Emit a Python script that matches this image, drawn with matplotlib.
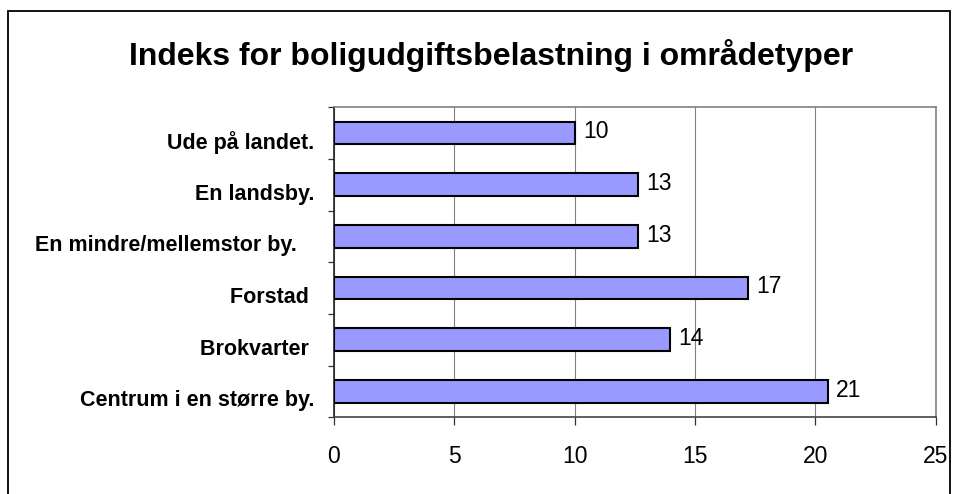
import matplotlib
matplotlib.use("Agg")
import matplotlib.pyplot as plt
import matplotlib.transforms as mtransforms
from matplotlib.patches import Rectangle

plt.rcParams['font.family'] = ['Liberation Sans', 'DejaVu Sans']

title = "Indeks for boligudgiftsbelastning i områdetyper"
categories = ["Ude på landet.", "En landsby.", "En mindre/mellemstor by.   ",
              "Forstad ", "Brokvarter ", "Centrum i en større by."]
values = [10.0, 12.64, 12.64, 17.21, 13.96, 20.51]
xticks = [0, 5, 10, 15, 20, 25]

fig = plt.figure(figsize=(9.59, 4.94), dpi=100)
fig.patch.set_facecolor("white")

# outer chart border
border = Rectangle((7.5 / 959, -0.1), (950 - 7.5) / 959, 1.1 - 10.7 / 494,
                   transform=fig.transFigure, fill=False, edgecolor="black",
                   linewidth=1.3, zorder=0)
fig.patches.append(border)

ax = fig.add_axes([334 / 959, 76.7 / 494, (935.7 - 334) / 959, (417.3 - 107.3) / 494])

ypos = list(range(len(categories)))
ax.barh(ypos, values, height=0.44, color="#9999FF", edgecolor="black",
        linewidth=1.5, zorder=3)

for y, v in zip(ypos, values):
    ax.annotate(f"{v:.0f}", xy=(v, y), xytext=(6, 1), textcoords="offset points",
                ha="left", va="center", fontsize=16.5, color="black")

ax.set_xlim(0, 25)
ax.set_ylim(len(categories) - 0.5, -0.5)
ax.set_xticks(xticks)
ax.set_xticklabels([str(t) for t in xticks], fontsize=16.5)
ax.xaxis.grid(True, color="#808080", linewidth=0.8, zorder=0)
ax.set_axisbelow(True)

# y ticks at category boundaries, labels at category centers
ax.set_yticks([i - 0.5 for i in range(len(categories) + 1)])
ax.set_yticklabels([])
ax.set_yticks(ypos, minor=True)
ax.set_yticklabels(categories, minor=True, fontsize=15.5, fontweight="bold")
ax.tick_params(axis="y", which="minor", length=0, pad=14)
ax.tick_params(axis="y", which="major", length=4.5, width=0.9, color="#333333", direction="out")
ax.tick_params(axis="x", length=6, width=0.9, color="#333333", direction="out", pad=14)

offset = mtransforms.ScaledTranslation(0, -7 / 100, fig.dpi_scale_trans)
for lbl in ax.get_yticklabels(minor=True):
    lbl.set_transform(lbl.get_transform() + offset)

for side in ["top", "right"]:
    ax.spines[side].set_color("#808080")
    ax.spines[side].set_linewidth(1.2)
ax.spines["left"].set_color("#222222")
ax.spines["left"].set_linewidth(1.2)
ax.spines["bottom"].set_color("#444444")
ax.spines["bottom"].set_linewidth(1.2)

fig.text(491 / 959, 1 - 55 / 494, title, ha="center", va="center",
         fontsize=23, fontweight="bold")

fig.savefig("out.png", dpi=100, facecolor="white")
